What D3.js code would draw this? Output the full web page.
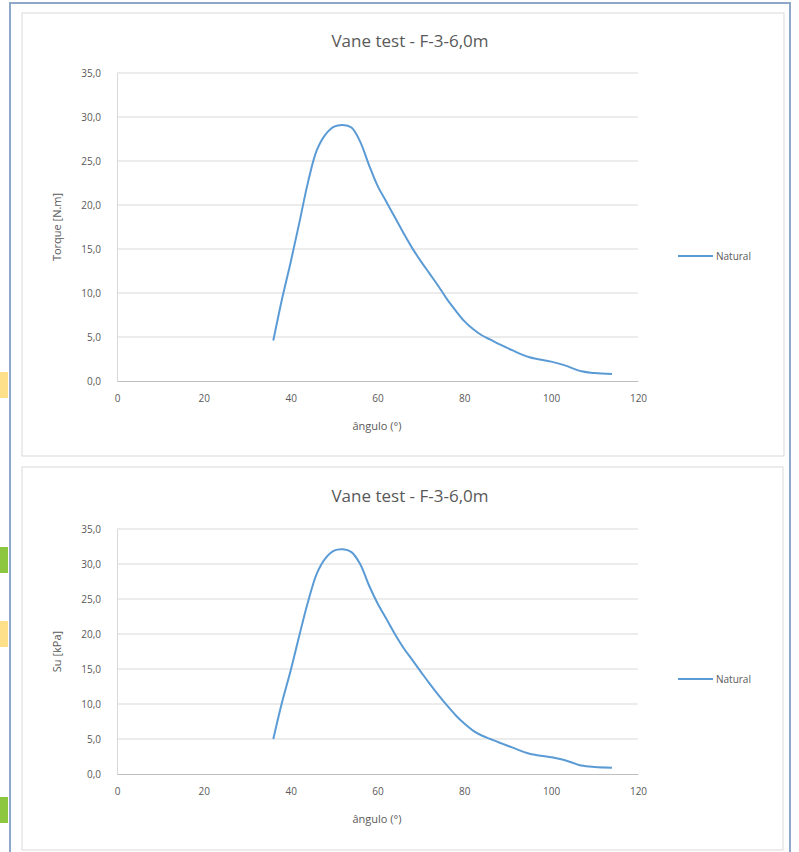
<!DOCTYPE html>
<html lang="pt">
<head>
<meta charset="utf-8">
<script src="https://d3js.org/d3.v7.min.js"></script>
<style>
  body { margin: 0; background: #fff; }
  text { font-family: "Open Sans", sans-serif; fill: #595959; }
  .tick text { font-size: 10px; }
  .grid line { stroke: #d9d9d9; }
</style>
</head>
<body>
<script>
// shared x values (angle, degrees)
var angle = [36, 38, 40, 42, 44, 46, 48, 50, 52, 54, 56, 58, 60, 62, 64, 66, 68, 70, 72, 74, 76, 78, 80, 82, 84, 86, 88, 91, 95, 100, 103, 107, 110, 114];
var torque = [4.6, 9.3, 13.5, 18.0, 22.6, 26.2, 28.0, 28.9, 29.1, 28.8, 27.2, 24.6, 22.2, 20.4, 18.6, 16.8, 15.1, 13.6, 12.2, 10.8, 9.3, 8.0, 6.8, 5.9, 5.2, 4.7, 4.2, 3.5, 2.7, 2.2, 1.8, 1.1, 0.9, 0.8];
var su = [5.0, 10.2, 14.8, 19.8, 24.6, 28.6, 30.8, 31.9, 32.1, 31.7, 30.0, 27.0, 24.4, 22.2, 20.0, 18.0, 16.3, 14.6, 12.9, 11.3, 9.8, 8.4, 7.2, 6.2, 5.5, 5.0, 4.5, 3.8, 2.9, 2.4, 2.0, 1.2, 1.0, 0.9];
var xTicks = [0, 20, 40, 60, 80, 100, 120];
var yTicks = [0, 5, 10, 15, 20, 25, 30, 35];
var title = "Vane test - F-3-6,0m";
var xTitle = "ângulo (°)";
var seriesName = "Natural";

var W = 799, H = 852;
var svg = d3.select("body").append("svg").attr("width", W).attr("height", H);

// coloured tabs at the far left
var tabs = [[372, "#ffe08a"], [547, "#8dc63f"], [621, "#ffe08a"], [797, "#8dc63f"]];
svg.selectAll("rect.tab").data(tabs).enter().append("rect")
  .attr("x", 0).attr("y", function (d) { return d[0]; })
  .attr("width", 8).attr("height", 26)
  .attr("fill", function (d) { return d[1]; });

// outer frame
svg.append("rect").attr("x", 10).attr("y", 3).attr("width", 780).attr("height", 860)
  .attr("fill", "#fff").attr("stroke", "#8ea9c8").attr("stroke-width", 2);

var fmt = function (v) { return d3.format(".1f")(v).replace(".", ","); };

function drawChart(cfg) {
  var g = svg.append("g");
  g.append("rect").attr("x", cfg.box[0]).attr("y", cfg.box[1])
    .attr("width", cfg.box[2]).attr("height", cfg.box[3])
    .attr("fill", "#fff").attr("stroke", "#d9d9d9");

  var x = d3.scaleLinear().domain([0, 120]).range([117, 638]);
  var y = d3.scaleLinear().domain([0, 35]).range([cfg.y0, cfg.y35]);

  g.append("g").attr("class", "grid")
    .selectAll("line").data(yTicks.slice(1)).enter().append("line")
    .attr("x1", x(0)).attr("x2", x(120))
    .attr("y1", function (d) { return y(d); }).attr("y2", function (d) { return y(d); });

  var ya = g.append("g").attr("transform", "translate(" + x(0) + ",0)")
    .call(d3.axisLeft(y).tickValues(yTicks).tickFormat(fmt).tickSize(0).tickPadding(16));
  ya.select(".domain").attr("stroke", "#d9d9d9");

  var xa = g.append("g").attr("transform", "translate(0," + y(0) + ")")
    .call(d3.axisBottom(x).tickValues(xTicks).tickFormat(d3.format("d")).tickSize(0).tickPadding(14));
  xa.select(".domain").attr("stroke", "#bfbfbf");

  var line = d3.line()
    .x(function (d, i) { return x(angle[i]); })
    .y(function (d) { return y(d); })
    .curve(d3.curveCatmullRom.alpha(0.5));
  g.append("path").datum(cfg.values).attr("d", line)
    .attr("fill", "none").attr("stroke", "#5b9bd5").attr("stroke-width", 2);

  g.append("text").attr("x", 410).attr("y", cfg.titleY).attr("text-anchor", "middle")
    .style("font-size", "17px").text(title);
  g.append("text").attr("x", 377).attr("y", y(0) + 49).attr("text-anchor", "middle")
    .style("font-size", "11px").text(xTitle);
  g.append("text").attr("transform", "translate(61," + (y(0) + y(35)) / 2 + ") rotate(-90)")
    .attr("text-anchor", "middle").style("font-size", "11px").text(cfg.yTitle);

  g.append("line").attr("x1", 678).attr("x2", 713).attr("y1", cfg.legendY).attr("y2", cfg.legendY)
    .attr("stroke", "#5b9bd5").attr("stroke-width", 2);
  g.append("text").attr("x", 716).attr("y", cfg.legendY).attr("dy", "0.35em")
    .style("font-size", "10px").text(seriesName);
}

drawChart({ box: [22, 13, 762, 443], y0: 381, y35: 73, titleY: 47, legendY: 256, yTitle: "Torque [N.m]", values: torque });
drawChart({ box: [22, 467, 761, 383], y0: 774, y35: 529, titleY: 502, legendY: 679, yTitle: "Su [kPa]", values: su });
</script>
</body>
</html>
